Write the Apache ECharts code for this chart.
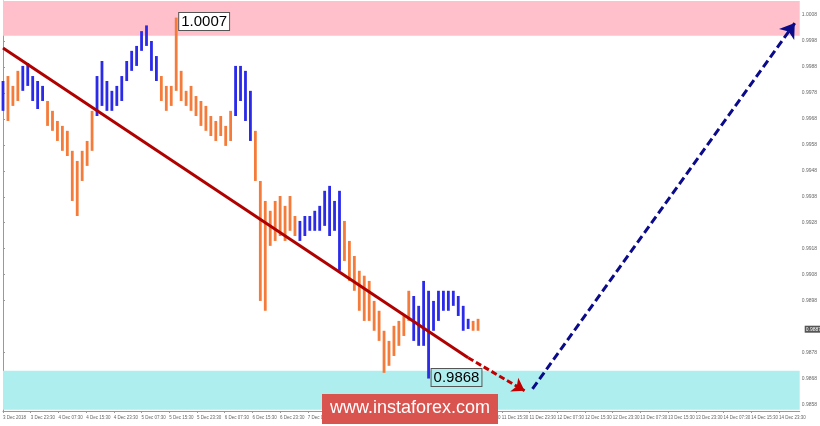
<!DOCTYPE html>
<html><head><meta charset="utf-8">
<script src="https://cdn.jsdelivr.net/npm/echarts@6/dist/echarts.min.js"></script>
<style>html,body{margin:0;padding:0;background:#fff}#c{width:820px;height:426px}</style>
</head><body><div id="c"></div>
<script>
// bar highs / lows (USDCHF M30, compressed)
var highs = [.99826,.99845,.99807,.99865,.99884,.99895,.99845,.99826,.99807,.99749,.99711,.99672,.99653,.99634,.99557,.99518,.99557,.99595,.99711,.99845,
  .99903,.99826,.99788,.99807,.99845,.99903,.99942,.99961,1.00018,1.0004,.9998,.99922,.99845,.99807,.99807,1.0007,.99865,.99788,.99807,.99768,
  .99749,.9973,.99691,.99672,.99691,.99653,.99711,.99884,.99884,.99865,.99788,.99634,.99441,.99364,.99326,.99364,.99383,.99345,.99383,.99306,
  .99287,.99306,.99306,.99326,.99345,.99403,.99422,.99364,.99403,.99287,.9921,.99152,.99095,.99076,.99056,.98979,.98941,.98864,.98825,.98883,
  .98902,.98921,.99018,.98998,.9896,.99056,.99018,.98979,.99018,.99018,.99018,.99018,.98998,.9896,.9891,.98902,.9891];
var lows = [.99711,.99672,.9973,.99749,.99788,.99807,.99749,.99718,.99749,.99653,.99634,.99595,.99557,.99537,.99364,.99306,.99441,.99499,.99557,.99691,
  .9973,.99711,.99711,.9973,.99749,.99826,.99865,.99884,.99942,.99961,.99865,.99826,.99749,.99711,.9973,.99788,.99749,.9973,.99711,.99691,
  .99653,.99634,.99614,.99595,.99614,.99576,.99595,.99691,.99749,.99672,.99595,.99441,.98979,.98941,.99191,.9921,.99229,.9921,.99249,.99229,
  .9921,.99229,.99249,.99249,.99249,.99268,.99229,.99249,.99095,.99133,.99056,.99018,.98941,.98902,.98902,.98864,.98825,.98702,.98729,.98767,
  .98806,.98844,.98902,.98825,.98806,.98806,.9868,.98864,.98902,.98941,.98941,.9896,.98921,.98864,.98871,.98864,.98864];
// wave colouring: b = blue, o = orange
var wave = "booobbbbboooooooooobbbbbbbbbbbbbooooooooooooooobbbbooooooooobbbbbbbbboooooooooooooobbbbbbbbbbbbooo";
var timeLabels = ["3 Dec 2018","3 Dec 23:30","4 Dec 07:30","4 Dec 15:30","4 Dec 23:30","5 Dec 07:30","5 Dec 15:30","5 Dec 23:30",
  "6 Dec 07:30","6 Dec 15:30","6 Dec 23:30","7 Dec 07:30","7 Dec 15:30","7 Dec 23:30","10 Dec 07:30","10 Dec 15:30","10 Dec 23:30","11 Dec 07:30","11 Dec 15:30","11 Dec 23:30","12 Dec 07:30","12 Dec 15:30","12 Dec 23:30","13 Dec 07:30","13 Dec 15:30","13 Dec 23:30","14 Dec 07:30","14 Dec 15:30","14 Dec 23:30","17 Dec 07:30"];
var priceTicks = [0.9858,0.9868,0.9878,0.9898,0.9908,0.9918,0.9928,0.9938,0.9948,0.9958,0.9968,0.9978,0.9988,0.9998,1.0008];
var lastPrice = 0.9887;
var trendLine = [[0, 0.99953], [94, 0.98760], [105.4, 0.98633]];
var targetArrow = [[107, 0.98640], [160, 1.00049]];
var resistanceZone = [1.0000, 1.00134];
var supportZone = [0.9856, 0.9871];

var bars = highs.map(function (h, i) { return [i, lows[i], h]; });
var chart = echarts.init(document.getElementById('c'));
chart.setOption({
  animation: false,
  grid: { left: 1, right: 14, top: 1, bottom: 15 },
  xAxis: {
    type: 'value', min: 0, max: 161, interval: 5.6,
    axisLine: { lineStyle: { color: '#999' } },
    axisTick: { length: 2, lineStyle: { color: '#999' } },
    splitLine: { show: false },
    axisLabel: { fontSize: 4.5, color: '#666', margin: 4, align: 'left',
      formatter: function (v) { return timeLabels[Math.round(v / 5.6)] || ''; } }
  },
  yAxis: {
    type: 'value', position: 'right', min: 0.98555, max: 1.00134, scale: true,
    axisLine: { show: true, lineStyle: { color: '#999' } },
    axisTick: { show: true, length: 2, customValues: priceTicks, lineStyle: { color: '#999' } },
    splitLine: { show: false },
    axisLabel: { fontSize: 5, color: '#666', margin: 2, customValues: priceTicks,
      formatter: function (v) { return v.toFixed(4); } }
  },
  graphic: [
    { type: 'text', left: 5, top: 3, style: { text: '\u25BE USDCHF,M30  0.9887 0.9888 0.9886 0.9887', fontSize: 5, fill: '#444' } },
    { type: 'rect', left: 322, top: 394, shape: { width: 176, height: 30 }, style: { fill: '#d9534f' }, z: 10 },
    { type: 'text', left: 330, top: 399, style: { text: 'www.instaforex.com', fontSize: 18, fill: '#fff', fontFamily: 'Liberation Sans' }, z: 11 }
  ],
  series: [
    {
      type: 'custom', data: bars, z: 3,
      renderItem: function (params, api) {
        var i = api.value(0);
        var a = api.coord([i, api.value(1)]), b = api.coord([i, api.value(2)]);
        return { type: 'line', shape: { x1: a[0], y1: a[1], x2: b[0], y2: b[1] },
          style: { stroke: wave[i] === 'b' ? '#2a2ae8' : '#f47b3a', lineWidth: 2.8 } };
      },
      markArea: {
        silent: true, z: 1,
        data: [
          [{ yAxis: resistanceZone[0], itemStyle: { color: '#ffc0cb' } }, { yAxis: resistanceZone[1] }],
          [{ yAxis: supportZone[0], itemStyle: { color: '#afeeee' } }, { yAxis: supportZone[1] }]
        ]
      },
      markPoint: {
        symbol: 'rect', symbolSize: 0,
        data: [
          { coord: [35, highs[35]], label: { show: true, position: 'right', offset: [-2, 4], formatter: '1.0007', fontSize: 15, color: '#000', backgroundColor: '#fff', borderColor: '#555', borderWidth: 1, padding: [1, 2] } },
          { coord: [86, lows[86]], label: { show: true, position: 'right', offset: [-2, -1], formatter: '0.9868', fontSize: 15, color: '#000', backgroundColor: '#afeeee', borderColor: '#555', borderWidth: 1, padding: [1, 2] } },
          { coord: [161, lastPrice], label: { show: true, position: 'right', offset: [0, 0], formatter: '0.9887', fontSize: 5, color: '#fff', backgroundColor: '#555', padding: [1, 1] } }
        ]
      }
    },
    { type: 'line', data: trendLine.slice(0, 2), symbol: 'none', z: 5, lineStyle: { color: '#b00000', width: 3 } },
    {
      type: 'line', data: trendLine.slice(1), symbol: 'none', z: 5, lineStyle: { color: '#c00000', width: 3, type: [6, 3] },
      markLine: { silent: true, symbol: ['none', 'arrow'], symbolSize: 12, label: { show: false },
        lineStyle: { color: '#c00000', width: 0, type: 'solid' },
        data: [[{ coord: trendLine[1] }, { coord: trendLine[2] }]] }
    },
    {
      type: 'line', data: [], symbol: 'none',
      markLine: { silent: true, symbol: ['none', 'arrow'], symbolSize: 14, label: { show: false },
        lineStyle: { color: '#0a0a8a', width: 3, type: [8, 4] },
        data: [[{ coord: targetArrow[0] }, { coord: targetArrow[1] }]] }
    }
  ]
});
</script></body></html>
